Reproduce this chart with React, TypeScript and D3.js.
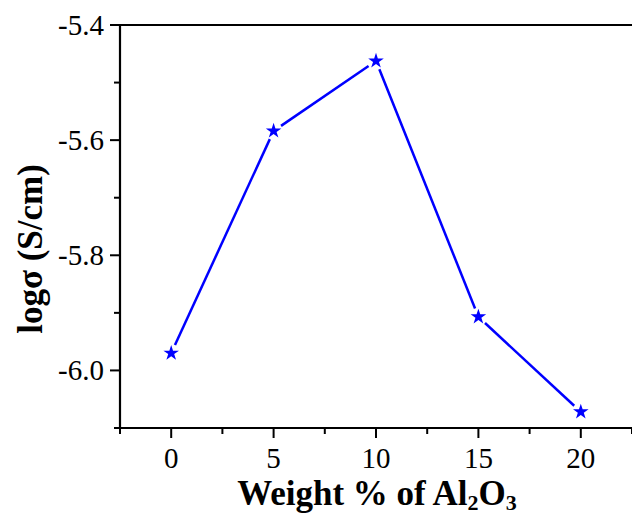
import React, { useEffect, useRef } from 'react';
import * as d3 from 'd3';

const weights = [0, 5, 10, 15, 20];
const logSigma = [-5.97, -5.584, -5.4625, -5.907, -6.072];
const xMajor = [0, 5, 10, 15, 20];
const xMinor = [-2.5, 2.5, 7.5, 12.5, 17.5, 22.5];
const yMajor = [-5.4, -5.6, -5.8, -6.0];
const yMinor = [-5.5, -5.7, -5.9, -6.1];

const W = 632;
const H = 515;
const margin = { top: 25, right: 0, bottom: 87, left: 120 };

function App() {
    const ref = useRef<SVGSVGElement | null>(null);

    useEffect(() => {
        const svg = d3.select(ref.current);
        svg.selectAll('*').remove();

        const x = d3.scaleLinear().domain([-2.5, 22.5]).range([margin.left, W - margin.right]);
        const y = d3.scaleLinear().domain([-6.1, -5.4]).range([H - margin.bottom, margin.top]);
        const font = '"Liberation Serif", "Times New Roman", serif';

        const g = svg.append('g');

        // frame: left, top and bottom lines (right side is cut off)
        g.append('line')
            .attr('x1', x(-2.5)).attr('x2', x(-2.5))
            .attr('y1', y(-5.4) - 1).attr('y2', y(-6.1) + 1)
            .attr('stroke', '#000').attr('stroke-width', 2.2);
        g.append('line')
            .attr('x1', x(-2.5) - 1).attr('x2', W)
            .attr('y1', y(-5.4)).attr('y2', y(-5.4))
            .attr('stroke', '#000').attr('stroke-width', 2.2);
        g.append('line')
            .attr('x1', x(-2.5) - 1).attr('x2', W)
            .attr('y1', y(-6.1)).attr('y2', y(-6.1))
            .attr('stroke', '#000').attr('stroke-width', 2.2);

        // y ticks
        g.selectAll('.ymaj').data(yMajor).join('line')
            .attr('x1', x(-2.5) - 10).attr('x2', x(-2.5))
            .attr('y1', (d) => y(d)).attr('y2', (d) => y(d))
            .attr('stroke', '#000').attr('stroke-width', 2);
        g.selectAll('.ymin').data(yMinor).join('line')
            .attr('x1', x(-2.5) - 6).attr('x2', x(-2.5))
            .attr('y1', (d) => y(d)).attr('y2', (d) => y(d))
            .attr('stroke', '#000').attr('stroke-width', 2);
        g.selectAll('.ylab').data(yMajor).join('text')
            .attr('x', x(-2.5) - 16).attr('y', (d) => y(d) + 10)
            .attr('text-anchor', 'end')
            .attr('font-family', font).attr('font-size', 29)
            .text((d) => d3.format('.1f')(d).replace('−', '-'));

        // x ticks
        g.selectAll('.xmaj').data(xMajor).join('line')
            .attr('x1', (d) => x(d)).attr('x2', (d) => x(d))
            .attr('y1', y(-6.1)).attr('y2', y(-6.1) + 10)
            .attr('stroke', '#000').attr('stroke-width', 2);
        g.selectAll('.xmin').data(xMinor).join('line')
            .attr('x1', (d) => x(d)).attr('x2', (d) => x(d))
            .attr('y1', y(-6.1)).attr('y2', y(-6.1) + 6)
            .attr('stroke', '#000').attr('stroke-width', 2);
        g.selectAll('.xlab').data(xMajor).join('text')
            .attr('x', (d) => x(d)).attr('y', y(-6.1) + 40)
            .attr('text-anchor', 'middle')
            .attr('font-family', font).attr('font-size', 29)
            .text((d) => String(d));

        // line segments with gaps at the markers
        const pts = weights.map((w, i) => [x(w), y(logSigma[i])]);
        const gap = 9;
        for (let i = 0; i < pts.length - 1; i++) {
            const [x1, y1] = pts[i];
            const [x2, y2] = pts[i + 1];
            const len = Math.hypot(x2 - x1, y2 - y1);
            const ux = (x2 - x1) / len;
            const uy = (y2 - y1) / len;
            g.append('line')
                .attr('x1', x1 + ux * gap).attr('y1', y1 + uy * gap)
                .attr('x2', x2 - ux * gap).attr('y2', y2 - uy * gap)
                .attr('stroke', '#0000ff').attr('stroke-width', 2.5);
        }

        const star = d3.symbol().type(d3.symbolStar).size(75);
        g.selectAll('.pt').data(pts).join('path')
            .attr('d', star)
            .attr('transform', (d) => `translate(${d[0]},${d[1]})`)
            .attr('fill', '#0000ff');

        // axis titles
        const xt = g.append('text')
            .attr('x', 377).attr('y', 505)
            .attr('text-anchor', 'middle')
            .attr('font-family', font).attr('font-size', 35).attr('font-weight', 'bold');
        xt.append('tspan').text('Weight % of Al');
        xt.append('tspan').attr('font-size', 22).attr('dy', 5).text('2');
        xt.append('tspan').attr('dy', -5).text('O');
        xt.append('tspan').attr('font-size', 22).attr('dy', 5).text('3');

        g.append('text')
            .attr('transform', `translate(42,${249}) rotate(-90)`)
            .attr('text-anchor', 'middle')
            .attr('font-family', font).attr('font-size', 35).attr('font-weight', 'bold')
            .text('logσ (S/cm)');
    }, []);

    return (
        <svg
            ref={ref}
            width={W}
            height={H}
            style={{ position: 'absolute', left: 0, top: 0, background: '#fff' }}
        />
    );
}

export default App;
